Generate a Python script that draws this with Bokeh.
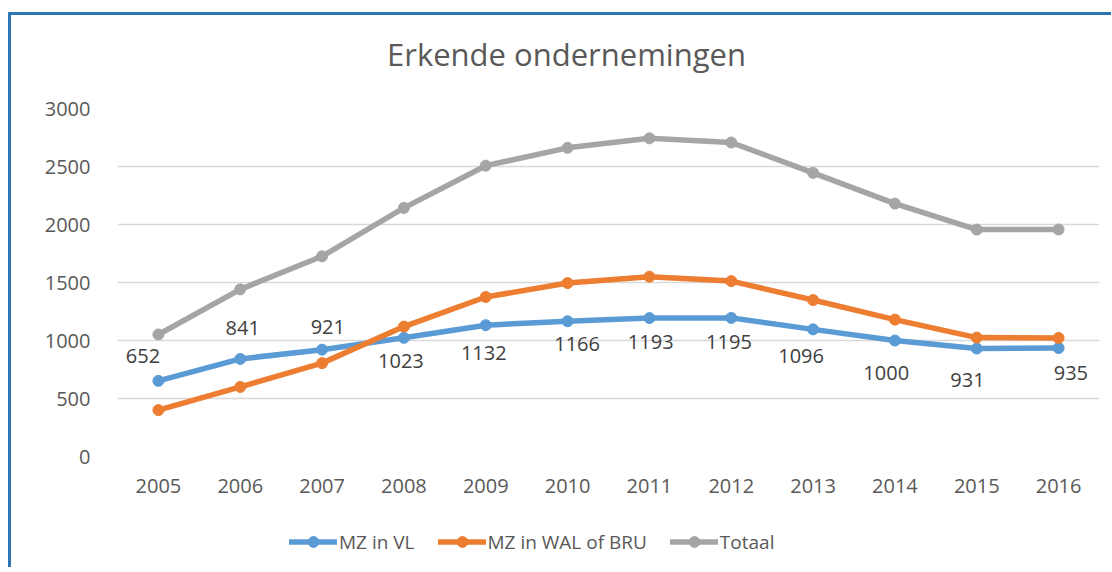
from bokeh.plotting import figure
from bokeh.layouts import column
from bokeh.models import ColumnDataSource, FactorRange, Range1d, FixedTicker, Legend, LegendItem, Div
from bokeh.embed import file_html
from bokeh.resources import INLINE
from bokeh.core.properties import value

# ---- data ----
years = ["2005", "2006", "2007", "2008", "2009", "2010",
         "2011", "2012", "2013", "2014", "2015", "2016"]
mz_vl = [652, 841, 921, 1023, 1132, 1166, 1193, 1195, 1096, 1000, 931, 935]
mz_wal_bru = [400, 600, 805, 1120, 1375, 1495, 1550, 1512, 1349, 1180, 1025, 1022]
totaal = [1052, 1441, 1726, 2143, 2507, 2661, 2743, 2707, 2445, 2180, 1956, 1957]
y_ticks = [0, 500, 1000, 1500, 2000, 2500, 3000]
series_names = ["MZ in VL", "MZ in WAL of BRU", "Totaal"]
title_text = "Erkende ondernemingen"

# ---- style ----
FONT = "Open Sans"
colors = ["#5B9BD5", "#ED7D31", "#A5A5A5"]
# data-label pixel offsets (screen, +y down)
lbl_dx = [-15.5, 2.5, 5.7, -3, -2, 9.5, 1.3, -2.3, -12, -8.7, -9.3, 12.3]
lbl_dy = [-25, -31, -23, 23, 28, 23, 23.5, 24, 26.5, 32, 31.5, 25]

title_div = Div(
    text=('<div style="padding:18px 0 0 376px; font-family:\'Open Sans\'; font-size:31px; '
          'line-height:42px; color:#595959; white-space:nowrap;">' + title_text + '</div>'),
    width=1100, height=75, margin=0)

p = figure(x_range=FactorRange(*years, range_padding=0), y_range=Range1d(0, 3000),
           width=1100, height=425, output_backend="svg", toolbar_location=None,
           min_border_left=106, min_border_right=12, min_border_top=18, min_border_bottom=59)

p.outline_line_color = None
p.xgrid.grid_line_color = None
p.ygrid.grid_line_color = "#D9D9D9"
p.ygrid.grid_line_width = 1.3

for ax in (p.xaxis, p.yaxis):
    ax.axis_line_color = None
    ax.major_tick_line_color = None
    ax.minor_tick_line_color = None
    ax.major_label_text_font = FONT
    ax.major_label_text_font_size = "20px"
    ax.major_label_text_color = "#595959"
p.xaxis.major_label_standoff = 16
p.yaxis.major_label_standoff = 21
p.yaxis.ticker = FixedTicker(ticks=y_ticks)

for vals, c in zip([mz_vl, mz_wal_bru, totaal], colors):
    p.line(years, vals, line_width=5.5, color=c, line_join="round", line_cap="round")
    p.scatter(years, vals, size=11, color=c)

src = ColumnDataSource(dict(x=years, y=mz_vl, t=[str(v) for v in mz_vl], dx=lbl_dx, dy=lbl_dy))
p.text(x="x", y="y", text="t", x_offset="dx", y_offset="dy", source=src,
       text_align="center", text_baseline="middle", text_font=value(FONT),
       text_font_size="20px", text_color="#404040")

# ---- legend strip (separate canvas so it is not clipped) ----
p2 = figure(width=1100, height=52, output_backend="svg", toolbar_location=None,
            x_range=Range1d(0, 1), y_range=Range1d(0, 1), min_border=0)
p2.axis.visible = False
p2.grid.visible = False
p2.outline_line_color = None
items = []
for name, c in zip(series_names, colors):
    l = p2.line([-5, -4], [-5, -5], line_width=5.5, color=c, line_cap="round")
    s = p2.scatter([-5], [-5], size=11, color=c)
    items.append(LegendItem(label=name, renderers=[l, s]))
legend = Legend(items=items, orientation="horizontal", location=(172, 12),
                glyph_width=48, glyph_height=27, label_standoff=2, spacing=23,
                padding=0, margin=0, border_line_color=None, background_fill_alpha=0,
                label_text_font=FONT, label_text_font_size="19px", label_text_color="#595959")
p2.add_layout(legend)

layout = column(title_div, p, p2, spacing=0,
                styles={"border-top": "3px solid #2F75B5", "border-left": "3px solid #2F75B5",
                        "transform": "translate(8px, 12px)"})

open("out.html", "w").write(file_html(layout, INLINE))
